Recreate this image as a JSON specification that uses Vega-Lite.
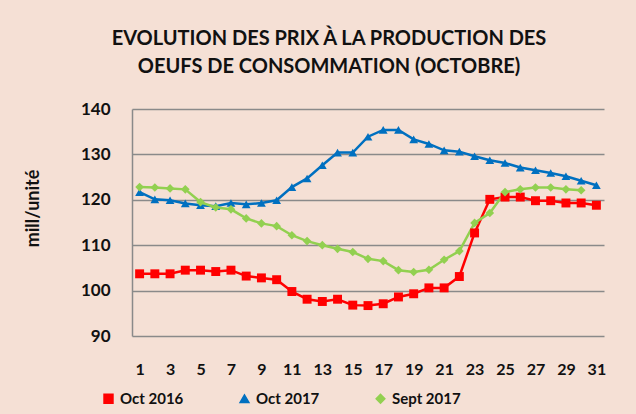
{
  "$schema": "https://vega.github.io/schema/vega-lite/v6.json",
  "autosize": "none",
  "padding": {"left": 132, "top": 109, "right": 32, "bottom": 78},
  "width": 472,
  "height": 227,
  "background": "#F5E0D5",
  "title": {
    "text": ["EVOLUTION DES PRIX À LA PRODUCTION DES", "OEUFS DE CONSOMMATION (OCTOBRE)"],
    "font": "Lato",
    "fontSize": 20,
    "fontWeight": "bold",
    "color": "#111111",
    "anchor": "middle",
    "dx": -39,
    "offset": 23,
    "lineHeight": 28
  },
  "data": {
    "values": [
      {"day": 1, "series": "Oct 2016", "value": 103.7},
      {"day": 2, "series": "Oct 2016", "value": 103.7},
      {"day": 3, "series": "Oct 2016", "value": 103.7},
      {"day": 4, "series": "Oct 2016", "value": 104.5},
      {"day": 5, "series": "Oct 2016", "value": 104.5},
      {"day": 6, "series": "Oct 2016", "value": 104.2},
      {"day": 7, "series": "Oct 2016", "value": 104.5},
      {"day": 8, "series": "Oct 2016", "value": 103.2},
      {"day": 9, "series": "Oct 2016", "value": 102.8},
      {"day": 10, "series": "Oct 2016", "value": 102.4},
      {"day": 11, "series": "Oct 2016", "value": 99.8},
      {"day": 12, "series": "Oct 2016", "value": 98.1},
      {"day": 13, "series": "Oct 2016", "value": 97.6},
      {"day": 14, "series": "Oct 2016", "value": 98.1},
      {"day": 15, "series": "Oct 2016", "value": 96.8},
      {"day": 16, "series": "Oct 2016", "value": 96.7},
      {"day": 17, "series": "Oct 2016", "value": 97.1},
      {"day": 18, "series": "Oct 2016", "value": 98.6},
      {"day": 19, "series": "Oct 2016", "value": 99.3},
      {"day": 20, "series": "Oct 2016", "value": 100.6},
      {"day": 21, "series": "Oct 2016", "value": 100.6},
      {"day": 22, "series": "Oct 2016", "value": 103.1},
      {"day": 23, "series": "Oct 2016", "value": 112.7},
      {"day": 24, "series": "Oct 2016", "value": 120.1},
      {"day": 25, "series": "Oct 2016", "value": 120.6},
      {"day": 26, "series": "Oct 2016", "value": 120.6},
      {"day": 27, "series": "Oct 2016", "value": 119.8},
      {"day": 28, "series": "Oct 2016", "value": 119.8},
      {"day": 29, "series": "Oct 2016", "value": 119.3},
      {"day": 30, "series": "Oct 2016", "value": 119.3},
      {"day": 31, "series": "Oct 2016", "value": 118.8},
      {"day": 1, "series": "Oct 2017", "value": 121.7},
      {"day": 2, "series": "Oct 2017", "value": 120.1},
      {"day": 3, "series": "Oct 2017", "value": 119.9},
      {"day": 4, "series": "Oct 2017", "value": 119.2},
      {"day": 5, "series": "Oct 2017", "value": 118.8},
      {"day": 6, "series": "Oct 2017", "value": 118.6},
      {"day": 7, "series": "Oct 2017", "value": 119.3},
      {"day": 8, "series": "Oct 2017", "value": 119.0},
      {"day": 9, "series": "Oct 2017", "value": 119.3},
      {"day": 10, "series": "Oct 2017", "value": 119.9},
      {"day": 11, "series": "Oct 2017", "value": 122.8},
      {"day": 12, "series": "Oct 2017", "value": 124.7},
      {"day": 13, "series": "Oct 2017", "value": 127.6},
      {"day": 14, "series": "Oct 2017", "value": 130.4},
      {"day": 15, "series": "Oct 2017", "value": 130.4},
      {"day": 16, "series": "Oct 2017", "value": 133.9},
      {"day": 17, "series": "Oct 2017", "value": 135.4},
      {"day": 18, "series": "Oct 2017", "value": 135.4},
      {"day": 19, "series": "Oct 2017", "value": 133.3},
      {"day": 20, "series": "Oct 2017", "value": 132.3},
      {"day": 21, "series": "Oct 2017", "value": 130.9},
      {"day": 22, "series": "Oct 2017", "value": 130.6},
      {"day": 23, "series": "Oct 2017", "value": 129.6},
      {"day": 24, "series": "Oct 2017", "value": 128.7},
      {"day": 25, "series": "Oct 2017", "value": 128.1},
      {"day": 26, "series": "Oct 2017", "value": 127.1},
      {"day": 27, "series": "Oct 2017", "value": 126.5},
      {"day": 28, "series": "Oct 2017", "value": 125.9},
      {"day": 29, "series": "Oct 2017", "value": 125.2},
      {"day": 30, "series": "Oct 2017", "value": 124.2},
      {"day": 31, "series": "Oct 2017", "value": 123.2},
      {"day": 1, "series": "Sept 2017", "value": 122.8},
      {"day": 2, "series": "Sept 2017", "value": 122.7},
      {"day": 3, "series": "Sept 2017", "value": 122.5},
      {"day": 4, "series": "Sept 2017", "value": 122.3},
      {"day": 5, "series": "Sept 2017", "value": 119.5},
      {"day": 6, "series": "Sept 2017", "value": 118.3},
      {"day": 7, "series": "Sept 2017", "value": 117.9},
      {"day": 8, "series": "Sept 2017", "value": 115.9},
      {"day": 9, "series": "Sept 2017", "value": 114.8},
      {"day": 10, "series": "Sept 2017", "value": 114.2},
      {"day": 11, "series": "Sept 2017", "value": 112.2},
      {"day": 12, "series": "Sept 2017", "value": 110.9},
      {"day": 13, "series": "Sept 2017", "value": 110.0},
      {"day": 14, "series": "Sept 2017", "value": 109.2},
      {"day": 15, "series": "Sept 2017", "value": 108.5},
      {"day": 16, "series": "Sept 2017", "value": 107.0},
      {"day": 17, "series": "Sept 2017", "value": 106.5},
      {"day": 18, "series": "Sept 2017", "value": 104.5},
      {"day": 19, "series": "Sept 2017", "value": 104.1},
      {"day": 20, "series": "Sept 2017", "value": 104.6},
      {"day": 21, "series": "Sept 2017", "value": 106.8},
      {"day": 22, "series": "Sept 2017", "value": 108.7},
      {"day": 23, "series": "Sept 2017", "value": 114.9},
      {"day": 24, "series": "Sept 2017", "value": 117.1},
      {"day": 25, "series": "Sept 2017", "value": 121.7},
      {"day": 26, "series": "Sept 2017", "value": 122.3},
      {"day": 27, "series": "Sept 2017", "value": 122.7},
      {"day": 28, "series": "Sept 2017", "value": 122.7},
      {"day": 29, "series": "Sept 2017", "value": 122.3},
      {"day": 30, "series": "Sept 2017", "value": 122.1}
    ]
  },
  "encoding": {
    "x": {
      "field": "day",
      "type": "quantitative",
      "scale": {"domain": [0.5, 31.5], "nice": false, "zero": false},
      "axis": {
        "values": [1, 3, 5, 7, 9, 11, 13, 15, 17, 19, 21, 23, 25, 27, 29, 31],
        "title": null,
        "grid": false,
        "ticks": false,
        "domain": false,
        "labelPadding": 25,
        "labelFont": "Lato",
        "labelFontSize": 16,
        "labelFontWeight": "bold",
        "labelColor": "#111111",
        "labelFlush": false,
        "labelOverlap": false
      }
    },
    "y": {
      "field": "value",
      "type": "quantitative",
      "scale": {"domain": [90, 140], "nice": false, "zero": false},
      "axis": {
        "values": [90, 100, 110, 120, 130, 140],
        "title": "mill/unité",
        "titleFont": "Lato",
        "titleFontSize": 18,
        "titleFontWeight": "bold",
        "titleColor": "#111111",
        "titlePadding": 38,
        "titleY": 99,
        "grid": true,
        "gridColor": "#8a8a8a",
        "gridWidth": 1.5,
        "ticks": false,
        "domain": true,
        "domainColor": "#8a8a8a",
        "domainWidth": 1.5,
        "labelPadding": 22,
        "labelFont": "Lato",
        "labelFontSize": 17,
        "labelFontWeight": "bold",
        "labelColor": "#111111"
      }
    },
    "color": {
      "field": "series",
      "type": "nominal",
      "scale": {
        "domain": ["Oct 2016", "Oct 2017", "Sept 2017"],
        "range": ["#FF0000", "#0070C0", "#92D050"]
      }
    }
  },
  "layer": [
    {
      "mark": {"type": "line", "strokeWidth": 2.5},
      "encoding": {
        "color": {
          "field": "series",
          "type": "nominal",
          "scale": {
            "domain": ["Oct 2016", "Oct 2017", "Sept 2017"],
            "range": ["#FF0000", "#0070C0", "#92D050"]
          },
          "legend": {
            "title": null,
            "orient": "none",
            "direction": "horizontal",
            "columns": 3,
            "legendX": -31,
            "legendY": 282,
            "columnPadding": 53,
            "labelOffset": 4,
            "labelFont": "Lato",
            "labelFontSize": 15,
            "labelFontWeight": "bold",
            "labelColor": "#111111"
          }
        }
      }
    },
    {
      "mark": {"type": "point", "filled": true, "opacity": 1},
      "encoding": {
        "color": {
          "field": "series",
          "type": "nominal",
          "legend": null
        },
        "shape": {
          "field": "series",
          "type": "nominal",
          "scale": {"domain": ["Oct 2016", "Oct 2017", "Sept 2017"], "range": ["square", "triangle-up", "diamond"]},
          "legend": null
        },
        "size": {
          "field": "series",
          "type": "nominal",
          "scale": {"domain": ["Oct 2016", "Oct 2017", "Sept 2017"], "range": [80, 75, 35]},
          "legend": null
        }
      }
    }
  ],
  "config": {
    "view": {"stroke": null}
  }
}
